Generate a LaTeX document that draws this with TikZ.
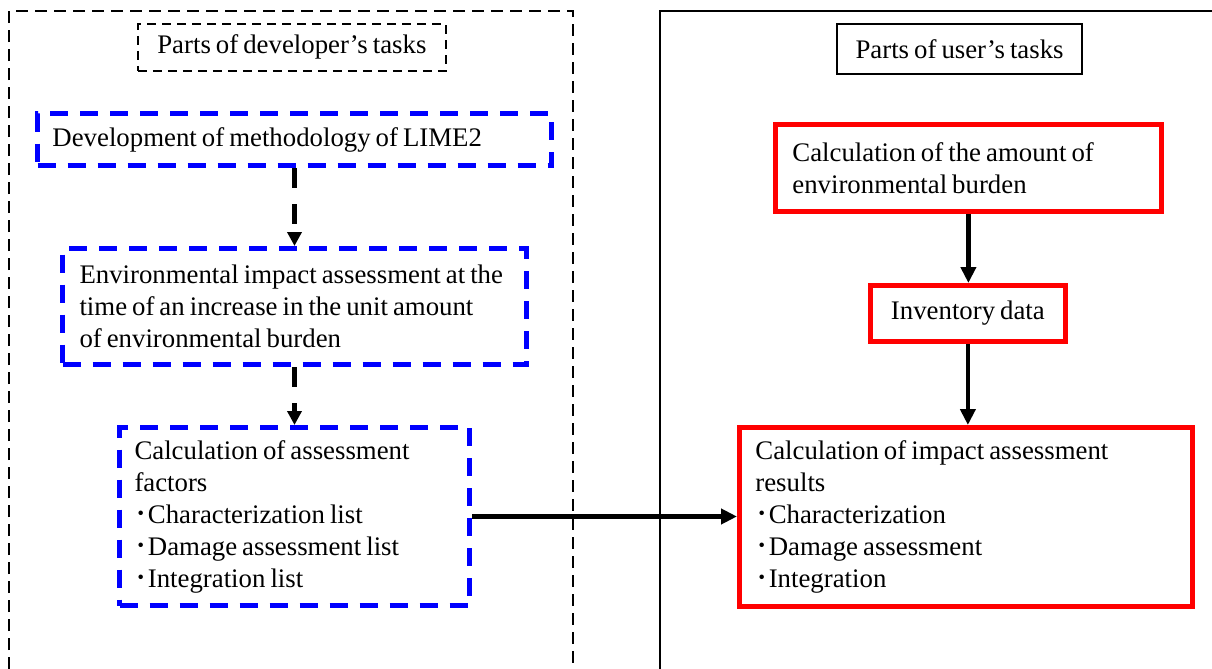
\documentclass[tikz,border=0pt]{standalone}
\usepackage{fontspec}
\setmainfont{Liberation Serif}[WordSpace=0.75]
\newfontfamily\cjk{Noto Sans CJK JP}
\usetikzlibrary{arrows.meta}
\newcommand{\bul}{{\cjk ･}}
\begin{document}
\begin{tikzpicture}[x=0.5pt,y=-0.5pt,
  font=\fontsize{13.4}{16}\selectfont,
  bluebox/.style={draw=blue, line width=2.5pt, dash pattern=on 9pt off 6pt, anchor=north west, align=flush left, inner ysep=0pt},
  redbox/.style={draw=red, line width=2.4pt, anchor=north west, align=flush left, inner ysep=0pt},
  frameline/.style={draw=black, line width=1pt},
  dashframe/.style={frameline, dash pattern=on 6pt off 3.5pt},
  devhead/.style={draw=black, line width=0.9pt, dash pattern=on 4.5pt off 3pt, anchor=north west, align=flush center, inner sep=0pt},
  userhead/.style={draw=black, line width=1.1pt, anchor=north west, align=flush center, inner sep=0pt},
  solidarrow/.style={line width=2.2pt, -{Triangle[length=8pt,width=7.5pt]}},
  dasharrow/.style={line width=2.2pt, dash pattern=on 10pt off 8pt, -{Triangle[length=7pt,width=7pt]}}
]
\useasboundingbox (0,0) rectangle (1212,669);
% frames
\draw[dashframe] (9,669) -- (9,11) -- (573,11) -- (573,669);
\draw[frameline] (660,669) -- (660,11) -- (1212,11);
% headers
\node[devhead, minimum width=154pt, minimum height=23.5pt] (dh) at (137,23) {Parts of developer’s tasks};
\node[userhead, minimum width=122.5pt, minimum height=25pt] (uh) at (836,23) {Parts of user’s tasks};
% developer boxes
\node[bluebox, minimum width=257pt, minimum height=26pt, inner xsep=7.5pt, text width=242pt] (b1) at (35,111)
  {Development of methodology of LIME2};
\node[bluebox, minimum width=232pt, minimum height=58pt, inner xsep=8.5pt, text width=215pt] (b2) at (60,246)
  {Environmental impact assessment at the\\ time of an increase in the unit amount\\ of environmental burden};
\node[bluebox, minimum width=175pt, minimum height=89pt, inner xsep=7.5pt, text width=160pt] (b3) at (117,425)
  {Calculation of assessment\\ factors\\ \bul Characterization list\\ \bul Damage assessment list\\ \bul Integration list};
% user boxes
\node[redbox, minimum width=193pt, minimum height=43.5pt, inner xsep=8.5pt, text width=176pt] (r1) at (773,122)
  {Calculation of the amount of\\ environmental burden};
\node[redbox, minimum width=97.5pt, minimum height=28pt, inner xsep=4pt, text width=89.5pt, align=flush center] (inv) at (868,283)
  {Inventory data};
\node[redbox, minimum width=226.5pt, minimum height=89.5pt, inner xsep=8pt, text width=210.5pt] (r3) at (737,425)
  {Calculation of impact assessment\\ results\\ \bul Characterization\\ \bul Damage assessment\\ \bul Integration};
% arrows
\draw[dasharrow] (b1.south) -- (b2.north);
\draw[dasharrow] (b2.south) -- (b3.north);
\draw[solidarrow] (r1.south) -- (r1.south |- inv.north);
\draw[solidarrow] (inv.south) -- (inv.south |- r3.north);
\draw[solidarrow] (b3.east) -- (b3.east -| r3.west);
\end{tikzpicture}
\end{document}
